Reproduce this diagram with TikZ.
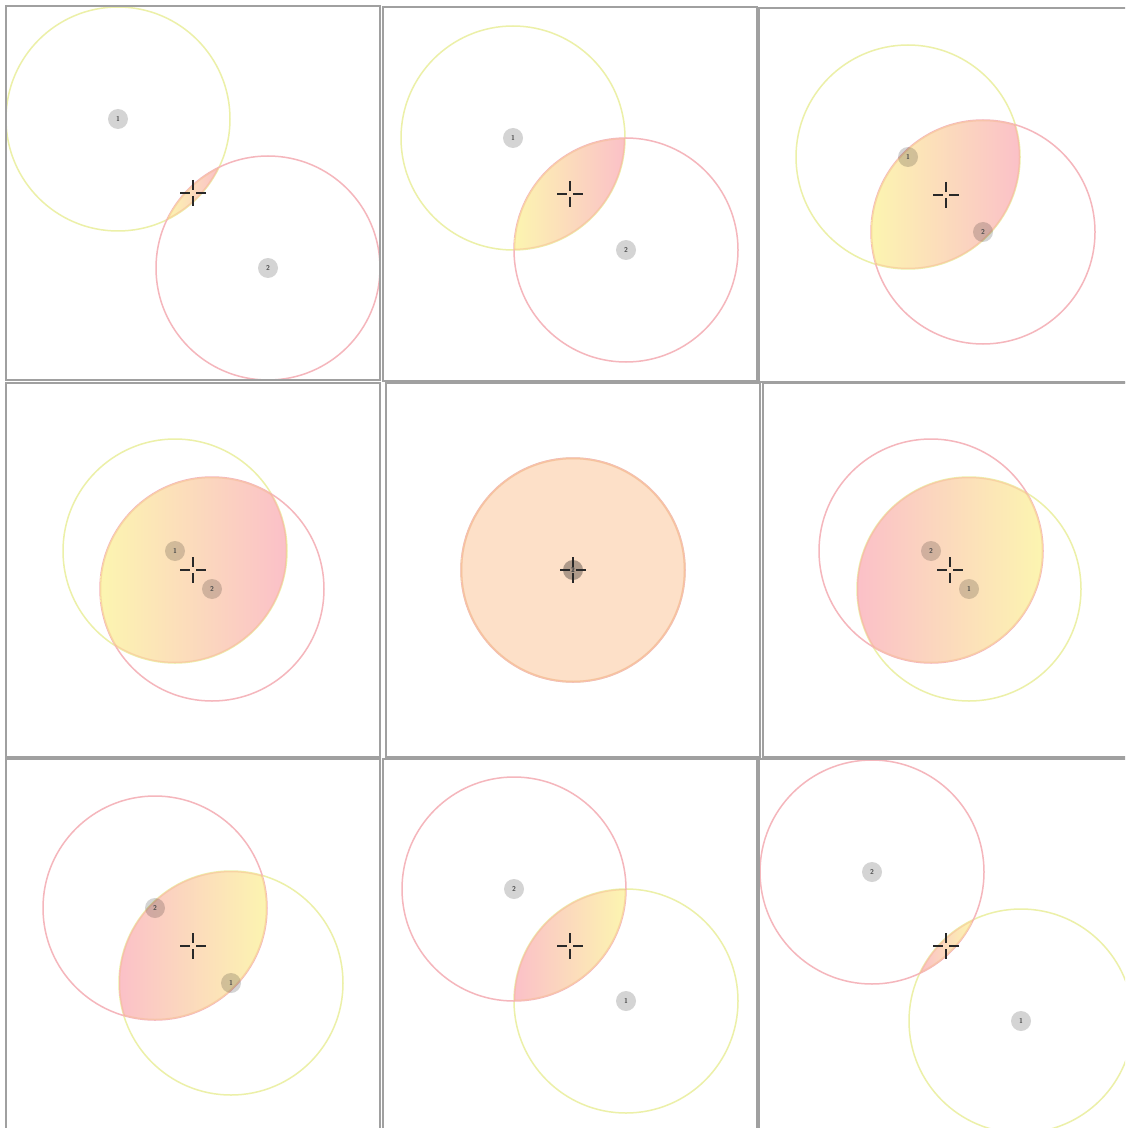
\documentclass[tikz,border=0pt]{standalone}
\usepackage{tikz}
\usetikzlibrary{calc}
\definecolor{ringyellow}{RGB}{236,240,168}
\definecolor{ringpink}{RGB}{245,182,188}
\definecolor{lensyellow}{RGB}{252,245,176}
\definecolor{lenspink}{RGB}{251,192,200}
\definecolor{lenspeach}{RGB}{253,224,200}
\definecolor{lensedge}{RGB}{244,184,140}
\definecolor{framegray}{RGB}{160,160,160}
\definecolor{crossdark}{RGB}{40,40,40}

\begin{document}
\begin{tikzpicture}[
    x=0.02cm, y=-0.02cm,
    frame/.style={draw=framegray, line width=0.04cm},
    ringone/.style={draw=ringyellow, line width=0.03cm},
    ringtwo/.style={draw=ringpink, line width=0.03cm},
    lensline/.style={draw=lensedge, draw opacity=0.45, line width=0.05cm},
    centre/.style={circle, fill=black, fill opacity=0.17, text opacity=1, text=black!70, inner sep=0pt, minimum size=0.4cm, font=\fontsize{4}{4}\selectfont\sffamily\bfseries},
    cross/.style={draw=crossdark, line width=0.04cm}
]
\useasboundingbox (0,0) rectangle (1125,1128);
\clip (0,0) rectangle (1125,1128);
\fill[white] (0,0) rectangle (1125,1128);

% panel: number / cross / centre of 1 / centre of 2 / lens half width / lens colours
\foreach \i/\cx/\cy/\ax/\ay/\bx/\by/\w/\lc/\rc in {
    1/193/193/118/119/268/268/26/lensyellow/lenspink,
    2/570/194/513/138/626/250/56/lensyellow/lenspink,
    3/946/195/908/157/983/232/75/lensyellow/lenspink,
    4/193/570/175/551/212/589/93/lensyellow/lenspink,
    5/573/570/573/570/573/570/112/lenspeach/lenspeach,
    6/950/570/969/589/931/551/93/lenspink/lensyellow,
    7/193/946/231/983/155/908/75/lenspink/lensyellow,
    8/570/946/626/1001/514/889/56/lenspink/lensyellow,
    9/946/946/1021/1021/872/872/26/lenspink/lensyellow}{
  \begin{scope}
    \clip ({\cx-187},{\cy-187}) rectangle ({\cx+187},{\cy+187});
    \draw[ringone] (\ax,\ay) circle[radius=112];
    \draw[ringtwo] (\bx,\by) circle[radius=112];
    \begin{scope}
      \clip (\ax,\ay) circle[radius=112];
      \clip (\bx,\by) circle[radius=112];
      \shade[left color=\lc, right color=\rc] ({\cx-\w},{\cy-\w}) rectangle ({\cx+\w},{\cy+\w});
      \draw[lensline] (\ax,\ay) circle[radius=112];
      \draw[lensline] (\bx,\by) circle[radius=112];
    \end{scope}
    \node[centre] (one\i) at (\ax,\ay) {1};
    \node[centre] (two\i) at (\bx,\by) {2};
    \coordinate (mid\i) at (\cx,\cy);
    \draw[cross] ($(mid\i)+(-13,0)$) -- ($(mid\i)+(-3,0)$);
    \draw[cross] ($(mid\i)+(3,0)$) -- ($(mid\i)+(13,0)$);
    \draw[cross] ($(mid\i)+(0,-13)$) -- ($(mid\i)+(0,-3)$);
    \draw[cross] ($(mid\i)+(0,3)$) -- ($(mid\i)+(0,13)$);
  \end{scope}
  \draw[frame] ({\cx-187},{\cy-187}) rectangle ({\cx+187},{\cy+187});
}
\end{tikzpicture}
\end{document}
